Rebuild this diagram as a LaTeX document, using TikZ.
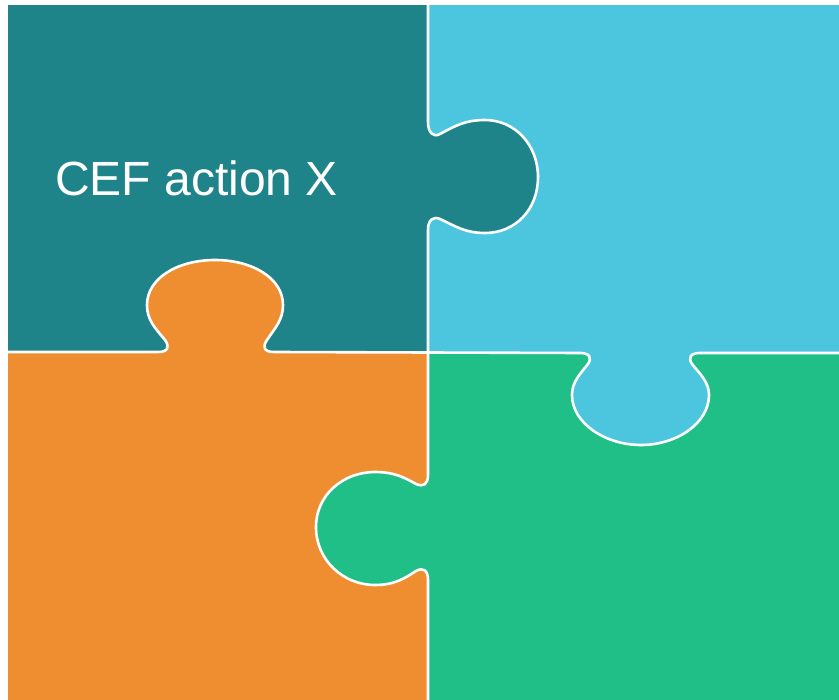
\documentclass[tikz,border=0pt]{standalone}
\usepackage{fontspec}
\setmainfont{Liberation Sans}
\definecolor{teal1}{RGB}{31,132,137}
\definecolor{blue1}{RGB}{76,197,222}
\definecolor{orange1}{RGB}{239,142,49}
\definecolor{green1}{RGB}{33,191,136}
\tikzset{
  seam/.style={draw=white, line width=2.6pt, line join=round, line cap=butt},
  label/.style={text=white, font=\fontsize{48}{56}\selectfont, inner sep=0pt, anchor=base west}
}
\begin{document}
\begin{tikzpicture}[x=1pt,y=-1pt]
\useasboundingbox (0,0) rectangle (839,700);
\fill[white] (0,0) rectangle (839,700);
% quarters
\fill[teal1] (8,5) rectangle (428,352);
\fill[blue1] (428,5) rectangle (839,353);
\fill[orange1] (8,352) rectangle (428,700);
\fill[green1] (428,353) rectangle (839,700);
% teal tab (right)
\fill[teal1] (428,122) .. controls (428,132) and (433,138) .. (440,134)
  .. controls (455,126) and (465,120) .. (485,120)
  .. controls (515,120) and (538,145) .. (538,177)
  .. controls (538,210) and (515,233) .. (485,233)
  .. controls (465,233) and (455,226) .. (440,219)
  .. controls (433,216) and (428,220) .. (428,230) -- cycle;
% orange tab (up)
\fill[orange1] (158,352) .. controls (168,352) and (170,347) .. (165,340)
  .. controls (155,328) and (147,320) .. (147,305)
  .. controls (147,278) and (178,260) .. (215,260)
  .. controls (252,260) and (283,278) .. (283,305)
  .. controls (283,320) and (275,328) .. (267,340)
  .. controls (262,347) and (264,352) .. (274,352) -- cycle;
% blue tab (down)
\fill[blue1] (580,353) .. controls (590,353) and (592,358) .. (588,364)
  .. controls (580,374) and (572,382) .. (572,395)
  .. controls (572,423) and (605,445) .. (641,445)
  .. controls (677,445) and (709,423) .. (709,395)
  .. controls (709,382) and (700,374) .. (692,364)
  .. controls (688,358) and (690,353) .. (700,353) -- cycle;
% green tab (left)
\fill[green1] (428,475) .. controls (428,485) and (423,487) .. (416,484)
  .. controls (405,478) and (395,472) .. (375,472)
  .. controls (343,472) and (316,495) .. (316,527)
  .. controls (316,560) and (343,585) .. (375,585)
  .. controls (395,585) and (405,578) .. (416,571)
  .. controls (423,567) and (428,570) .. (428,580) -- cycle;
% vertical seam
\draw[seam] (428,5) -- (428,122) .. controls (428,132) and (433,138) .. (440,134)
  .. controls (455,126) and (465,120) .. (485,120)
  .. controls (515,120) and (538,145) .. (538,177)
  .. controls (538,210) and (515,233) .. (485,233)
  .. controls (465,233) and (455,226) .. (440,219)
  .. controls (433,216) and (428,220) .. (428,230)
  -- (428,475) .. controls (428,485) and (423,487) .. (416,484)
  .. controls (405,478) and (395,472) .. (375,472)
  .. controls (343,472) and (316,495) .. (316,527)
  .. controls (316,560) and (343,585) .. (375,585)
  .. controls (395,585) and (405,578) .. (416,571)
  .. controls (423,567) and (428,570) .. (428,580) -- (428,700);
% horizontal seam
\draw[seam] (8,352) -- (158,352) .. controls (168,352) and (170,347) .. (165,340)
  .. controls (155,328) and (147,320) .. (147,305)
  .. controls (147,278) and (178,260) .. (215,260)
  .. controls (252,260) and (283,278) .. (283,305)
  .. controls (283,320) and (275,328) .. (267,340)
  .. controls (262,347) and (264,352) .. (274,352)
  -- (580,353) .. controls (590,353) and (592,358) .. (588,364)
  .. controls (580,374) and (572,382) .. (572,395)
  .. controls (572,423) and (605,445) .. (641,445)
  .. controls (677,445) and (709,423) .. (709,395)
  .. controls (709,382) and (700,374) .. (692,364)
  .. controls (688,358) and (690,353) .. (700,353) -- (839,353);
\node[label] (title) at (55,196) {CEF action X};
\end{tikzpicture}
\end{document}
